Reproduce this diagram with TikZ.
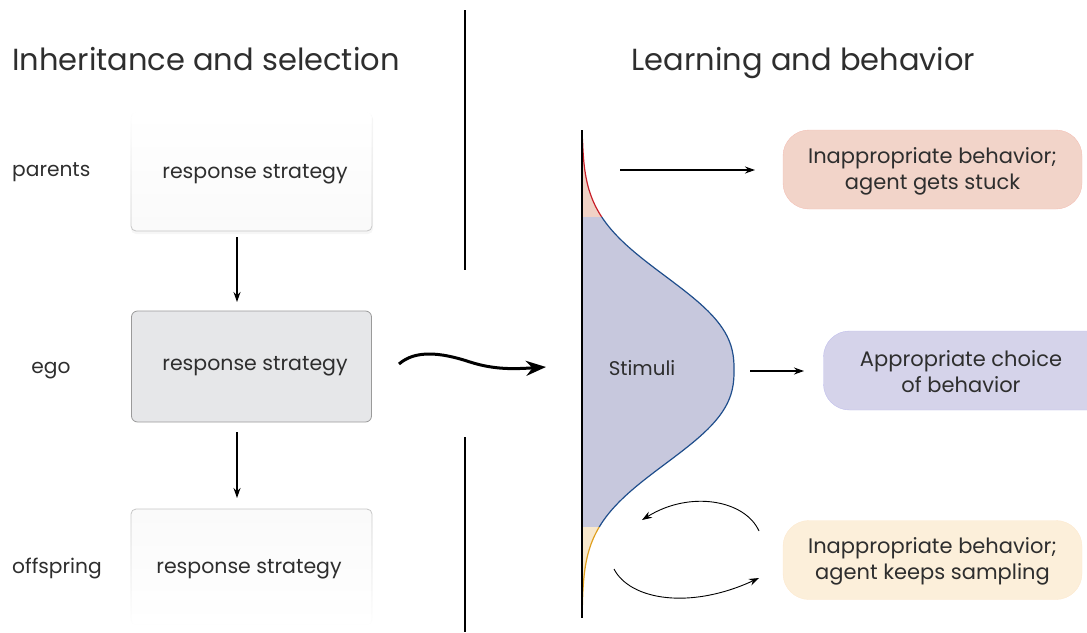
\documentclass[tikz,border=0pt]{standalone}
\usepackage{fontspec}
\setmainfont{Poppins}
\usetikzlibrary{arrows.meta,fadings}
\definecolor{txt}{HTML}{2E2E2E}
\definecolor{egofill}{HTML}{E6E7E9}
\definecolor{egoline}{HTML}{9A9A9A}
\definecolor{redfill}{HTML}{F0D2C6}
\definecolor{redline}{HTML}{C8202A}
\definecolor{bluefill}{HTML}{C7C8DD}
\definecolor{blueline}{HTML}{1F4E8C}
\definecolor{orfill}{HTML}{F8E8CD}
\definecolor{orline}{HTML}{E0A020}
\definecolor{boxred}{HTML}{F2D4C9}
\definecolor{boxblue}{HTML}{D5D3EA}
\definecolor{boxor}{HTML}{FCEFDA}
\tikzset{
  title/.style={font=\fontsize{30.5}{36}\selectfont, text=txt, inner sep=0pt},
  gen/.style={font=\fontsize{20.2}{24}\selectfont, text=txt, inner sep=0pt},
  rs/.style={font=\fontsize{20.5}{24}\selectfont, text=txt, inner sep=0pt},
  outbox/.style={rounded corners=26pt, minimum width=299pt, minimum height=79pt,
    font=\fontsize{21}{26}\selectfont, text=txt, align=center, inner sep=0pt},
  arr/.style={-{Stealth[length=10pt,width=7pt]}, line width=1.3pt, black},
  thin arr/.style={-{Stealth[length=10pt,width=7pt]}, line width=0.9pt, black},
}
\begin{document}
\begin{tikzpicture}[x=1pt,y=-1pt]
\useasboundingbox (0,0) rectangle (1087,632);
% dividers
\draw[line width=1.3pt] (465,10) -- (465,270);
\draw[line width=1.3pt] (465,437) -- (465,632);
% titles
\node[title, anchor=base west] (t1) at (12,70) {Inheritance and selection};
\node[title, anchor=base] (t2) at (803.5,70) {Learning and behavior};
% generation labels
\node[gen, anchor=west] (lp) at (12,172) {parents};
\node[gen] (le) at (51,371) {ego};
\node[gen, anchor=west] (lo) at (12,569) {offspring};
% parents box (faded)
\fill[gray!7, rounded corners=5pt] (131,114) rectangle (373,234);
\shade[top color=white, bottom color=gray!4, rounded corners=5pt] (131,112) rectangle (372,231);
\draw[gray!45, line width=0.8pt, rounded corners=5pt, path fading=north] (131,112) rectangle (372,231);
\node[rs, minimum width=241pt, minimum height=119pt] (pb) at (251.5,171.5) {};
\node[rs] (pbt) at (255,174) {response strategy};
% ego box
\node[rs, draw=egoline, fill=egofill, line width=0.8pt, rounded corners=6pt,
  minimum width=240pt, minimum height=111pt] (eb) at (251.5,366.5) {};
\node[rs] (ebt) at (255,366) {response strategy};
% offspring box (faded)
\shade[top color=gray!4, bottom color=white, rounded corners=5pt] (131,509) rectangle (372,625);
\draw[gray!45, line width=0.8pt, rounded corners=5pt, path fading=south] (131,509) rectangle (372,625);
\node[rs, minimum width=241pt, minimum height=116pt] (ob) at (251.5,567) {};
\node[rs] (obt) at (249,569) {response strategy};
% vertical arrows
\coordinate (a1) at (237,237);
\coordinate (a2) at (237,302);
\coordinate (a3) at (237,432);
\coordinate (a4) at (237,498);
\draw[arr] (a1) -- (a2);
\draw[arr] (a3) -- (a4);
% wavy arrow
\coordinate (w1) at (399,364);
\coordinate (w2) at (546,367);
\draw[line width=3pt, -{Stealth[length=20pt,width=15pt]}] (w1) .. controls (415,350) and (440,352) .. (470,362) .. controls (495,370) and (515,369) .. (w2);
% distribution
\fill[redfill] (582,139) -- plot[domain=139:217, samples=30] ({582+152*exp(-pow(abs(\x-370)/115,2.5))}, \x) -- (582,217) -- cycle;
\fill[bluefill] (582,217) -- plot[domain=217:527, samples=90] ({582+152*exp(-pow(abs(\x-370)/115,2.5))}, \x) -- (582,527) -- cycle;
\fill[orfill] (582,527) -- plot[domain=527:607, samples=30] ({582+152*exp(-pow(abs(\x-370)/115,2.5))}, \x) -- (582,607) -- cycle;
\draw[redline, line width=1.2pt] plot[domain=139:217, samples=30] ({582+152*exp(-pow(abs(\x-370)/115,2.5))}, \x);
\draw[blueline, line width=1.2pt] plot[domain=217:527, samples=90] ({582+152*exp(-pow(abs(\x-370)/115,2.5))}, \x);
\draw[orline, line width=1.2pt] plot[domain=527:607, samples=30] ({582+152*exp(-pow(abs(\x-370)/115,2.5))}, \x);
\draw[line width=2pt] (582,130) -- (582,618);
\node[gen, font=\fontsize{19.8}{24}\selectfont] (st) at (642,368) {Stimuli};
% outcome boxes
\node[outbox, fill=boxred, draw=boxred!90!red] (o1) at (932.5,169.5) {};
\node[gen, font=\fontsize{21}{26}\selectfont, align=center] (o1t) at (932.5,171.5) {Inappropriate behavior;\\agent gets stuck};
\begin{scope}
\clip (0,0) rectangle (1087,632);
\node[outbox, fill=boxblue, draw=boxblue!90!blue] (o2) at (973,370.5) {};
\end{scope}
\node[gen, font=\fontsize{21}{26}\selectfont, align=center] (o2t) at (961,372) {Appropriate choice\\of behavior};
\node[outbox, fill=boxor, draw=boxor!95!orange] (o3) at (932.5,560) {};
\node[gen, font=\fontsize{21}{26}\selectfont, align=center] (o3t) at (932.5,561.5) {Inappropriate behavior;\\agent keeps sampling};
% arrows to outcomes
\coordinate (r1) at (620,170);
\coordinate (r2) at (755,170);
\draw[arr] (r1) -- (r2);
\coordinate (m1) at (750,371);
\coordinate (m2) at (804,371);
\draw[arr] (m1) -- (m2);
% loop arrows
\coordinate (l1) at (759,531);
\coordinate (l2) at (642,520);
\draw[thin arr] (l1) .. controls (745,500) and (690,490) .. (l2);
\coordinate (l3) at (614,569);
\coordinate (l4) at (759,578);
\draw[thin arr] (l3) .. controls (630,600) and (690,610) .. (l4);
\end{tikzpicture}
\end{document}
